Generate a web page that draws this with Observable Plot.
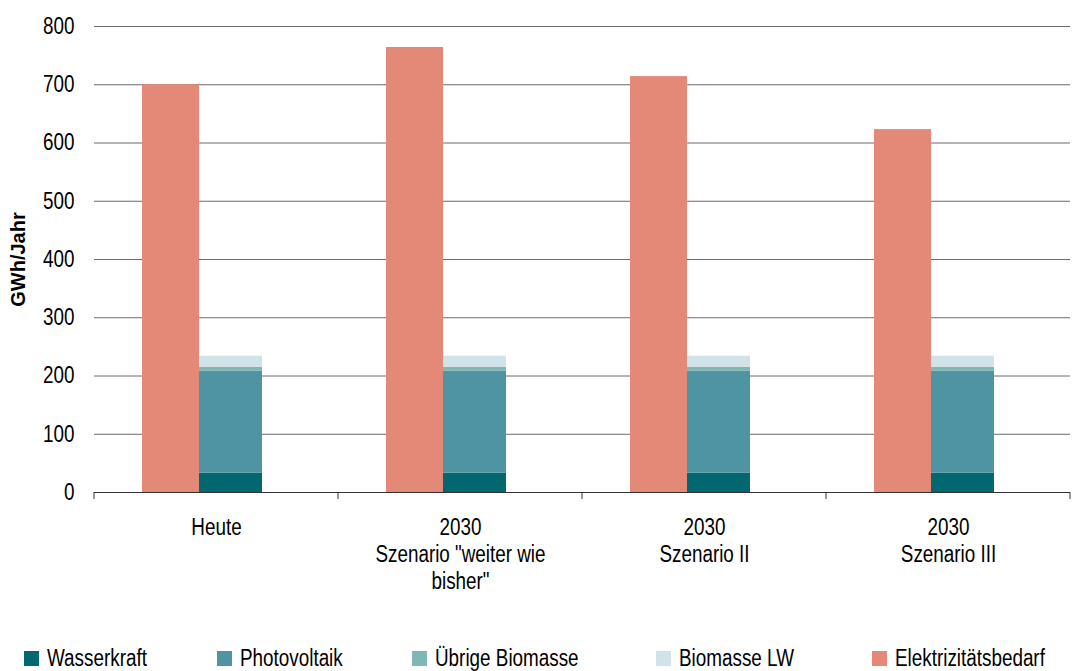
<!DOCTYPE html>
<html>
<head>
<meta charset="utf-8">
<script src="https://cdn.jsdelivr.net/npm/d3@7"></script>
<script src="https://cdn.jsdelivr.net/npm/@observablehq/plot@0.6"></script>
<style>
  html, body { margin: 0; padding: 0; background: #fff; }
  body { width: 1073px; height: 671px; overflow: hidden; font-family: "Liberation Sans", Arial, sans-serif; }
  #chart svg { display: block; }
  g[aria-label="y-axis label"] text { font-weight: bold; font-size: 20px; }
  #legend { position: relative; height: 31px; font-size: 23px; color: #000; }
  #legend .item { position: absolute; top: 6px; display: flex; align-items: center; white-space: nowrap; line-height: 24px; }
  #legend .sw { width: 15px; height: 15px; margin-right: 8px; flex: none; }
  #legend span { display: inline-block; transform: scaleX(0.82); transform-origin: left center; }
</style>
</head>
<body>
<div id="chart"></div>
<div id="legend"></div>
<script>
const categories = ["Heute", "2030\nSzenario \"weiter wie\nbisher\"", "2030\nSzenario II", "2030\nSzenario III"];
const groups = ["Bedarf", "Erzeugung"];
const series = ["Wasserkraft", "Photovoltaik", "Übrige Biomasse", "Biomasse LW", "Elektrizitätsbedarf"];
const colors = ["#03676F", "#4F94A3", "#80B6B4", "#CFE3E8", "#E48878"];
const wasserkraft = [33, 33, 33, 33];
const photovoltaik = [175, 175, 175, 175];
const uebrigeBiomasse = [7, 7, 7, 7];
const biomasseLW = [19, 19, 19, 19];
const bedarf = [700, 764, 714, 623];
const yTicks = [0, 100, 200, 300, 400, 500, 600, 700, 800];

const supply = [wasserkraft, photovoltaik, uebrigeBiomasse, biomasseLW];
const bedarfRows = categories.map((cat, i) => ({cat, group: groups[0], series: series[4], value: bedarf[i]}));
const supplyRows = [];
categories.forEach((cat, i) => {
  supply.forEach((arr, s) => supplyRows.push({cat, group: groups[1], series: series[s], value: arr[i]}));
});

const plot = Plot.plot({
  width: 1073,
  height: 640,
  marginLeft: 94,
  marginRight: 3,
  marginTop: 26,
  marginBottom: 148,
  style: {fontSize: "23px", fontFamily: "'Liberation Sans', Arial, sans-serif", color: "#000", background: "#fff"},
  fx: {domain: categories, padding: 0},
  x: {domain: groups, paddingInner: 0, paddingOuter: 1.033, align: 0.387, round: false, axis: null},
  y: {domain: [0, 800]},
  color: {domain: series, range: colors},
  marks: [
    Plot.ruleY(yTicks.filter(d => d > 0), {stroke: "#6b6b6b", strokeWidth: 1}),
    Plot.barY(bedarfRows, {fx: "cat", x: "group", y: "value", fill: "series", insetRight: 3}),
    Plot.barY(supplyRows, {fx: "cat", x: "group", y: "value", fill: "series", insetLeft: -3}),
    Plot.ruleY([0], {stroke: "#333", strokeWidth: 1.2}),
    Plot.axisY({ticks: yTicks, tickSize: 0, tickPadding: 20, fontSize: 23, label: "GWh/Jahr", labelAnchor: "center", labelOffset: 84, labelArrow: "none"}),
    Plot.axisFx({anchor: "bottom", tickSize: 0, tickPadding: 24, fontSize: 23, lineHeight: 1.16, label: null})
  ]
});
document.getElementById("chart").appendChild(plot);

// condense tick label glyphs horizontally (narrow typeface look), about each label's anchor
d3.select(plot)
  .selectAll('g[aria-label="fx-axis tick label"] text, g[aria-label="y-axis tick label"] text')
  .attr("transform", function() {
    const t = this.getAttribute("transform") || "";
    const x = +this.getAttribute("x") || 0, yy = +this.getAttribute("y") || 0;
    return `${t} translate(${x},${yy}) scale(0.82,1) translate(${-x},${-yy})`;
  });

// category boundary ticks on the x axis line, positioned via the fx scale
const fx = plot.scale("fx");
const y = plot.scale("y");
const bounds = fx.domain.map(d => fx.apply(d));
bounds.push(fx.apply(fx.domain[fx.domain.length - 1]) + fx.bandwidth);
const y0 = y.apply(0);
d3.select(plot).append("g").attr("aria-label", "category ticks")
  .selectAll("line").data(bounds).join("line")
  .attr("x1", d => d).attr("x2", d => d)
  .attr("y1", y0).attr("y2", y0 + 7)
  .attr("stroke", "#333").attr("stroke-width", 1);

// legend
const legendLefts = [24, 217, 412, 656, 872];
const legend = d3.select("#legend");
series.forEach((s, i) => {
  const item = legend.append("div").attr("class", "item").style("left", legendLefts[i] + "px");
  item.append("div").attr("class", "sw").style("background", colors[i]);
  item.append("span").text(s);
});
</script>
</body>
</html>
